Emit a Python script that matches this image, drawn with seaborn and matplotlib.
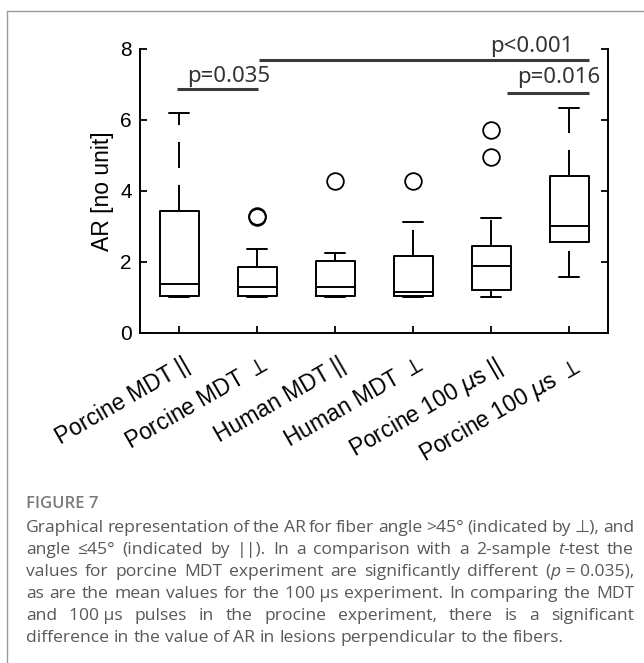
import matplotlib
matplotlib.use("Agg")
import matplotlib.pyplot as plt
from matplotlib.lines import Line2D
from matplotlib.transforms import ScaledTranslation
import seaborn as sns

sns.set_theme(style="ticks")
plt.rcParams['font.family'] = ['Liberation Sans', 'DejaVu Sans']
plt.rcParams['mathtext.fontset'] = 'dejavusans'

# box statistics (AR, no unit)
groups = ["Porcine MDT ||", r"Porcine MDT $\perp$", "Human MDT ||",
          r"Human MDT $\perp$", r"Porcine 100 $\mu$s ||", r"Porcine 100 $\mu$s $\perp$"]
q1 = [1.035, 1.035, 1.035, 1.035, 1.20, 2.55]
med = [1.365, 1.30, 1.30, 1.16, 1.88, 3.01]
q3 = [3.44, 1.86, 2.03, 2.17, 2.45, 4.43]
whislo = [1.0, 1.0, 1.0, 1.0, 1.02, 1.56]
whishi = [6.20, 2.35, 2.26, 3.13, 3.24, 6.33]
fliers = [[], [3.25, 3.28], [4.29], [4.29], [5.72, 4.96], []]

# significance bars
sig_labels = ["p=0.035", "p<0.001", "p=0.016"]
sig_x0 = [0.97, 2.02, 5.20]
sig_x1 = [2.01, 6.26, 6.26]
sig_y = [6.86, 7.69, 6.76]
sig_tx = [1.64, 5.52, 5.87]
sig_ty = [7.23, 8.08, 7.20]

cap_title = "FIGURE 7"
cap_lines = [
    "Graphical representation of the AR for fiber angle >45° (indicated by ⊥), and",
    "angle ≤45° (indicated by ||). In a comparison with a 2-sample *t*-test the",
    "values for porcine MDT experiment are significantly different (*p*\u00a0=\u00a00.035),",
    "as are the mean values for the 100\u00a0µs experiment. In comparing the MDT",
    "and 100\u00a0µs pulses in the procine experiment, there is a significant",
    "difference in the value of AR in lesions perpendicular to the fibers.",
]

fig = plt.figure(figsize=(6.44, 6.63), dpi=100)
ax = fig.add_axes([0.2174, 0.4982, 0.7267, 0.4279])

lw = 1.4
stats = [dict(q1=a, med=m, q3=b, whislo=lo, whishi=hi, fliers=f)
         for a, m, b, lo, hi, f in zip(q1, med, q3, whislo, whishi, fliers)]
res = ax.bxp(stats, positions=range(1, 7), widths=0.5, capwidths=0.25,
             boxprops=dict(color='black', lw=lw),
             medianprops=dict(color='black', lw=lw),
             whiskerprops=dict(color='black', lw=lw, linestyle=(0, (13.4, 8.7))),
             capprops=dict(color='black', lw=lw),
             flierprops=dict(marker='o', markerfacecolor='none', markeredgecolor='black',
                             markersize=12, markeredgewidth=1.3))
# lower whiskers start their dash pattern at the cap, like matlab
for w in res['whiskers'][::2]:
    x, y = w.get_data()
    w.set_data(x[::-1], y[::-1])

ax.set_xlim(0.5, 6.5)
ax.set_ylim(0, 8)
ax.set_yticks([0, 2, 4, 6, 8])
ax.set_xticks(range(1, 7))
ax.set_xticklabels(groups, rotation=30, ha='right', va='top', rotation_mode='anchor',
                   fontsize=16.5)
sns.despine(ax=ax, top=True, right=False)
ax.tick_params(direction='in', length=5, width=1.3, right=True, colors='black')
ax.tick_params(axis='y', labelsize=15, pad=6)
ax.tick_params(axis='x', pad=15)
for s in ax.spines.values():
    s.set_linewidth(lw)
    s.set_color('black')
for lab in ax.get_xticklabels():
    lab.set_transform(lab.get_transform() + ScaledTranslation(0.03, 0, fig.dpi_scale_trans))
ax.set_ylabel("AR [no unit]", fontsize=16.5, color='black')
ax.yaxis.set_label_coords(-0.055, 0.5)
ax.grid(False)

for x0, x1, y, tx, ty, lab in zip(sig_x0, sig_x1, sig_y, sig_tx, sig_ty, sig_labels):
    ax.plot([x0, x1], [y, y], color='#3a3a3a', lw=2.2, clip_on=False,
            solid_capstyle='butt')
    ax.text(tx, ty, lab, ha='center', va='center', fontsize=16, color='#333333',
            family=['Noto Sans', 'DejaVu Sans'], clip_on=False)

# frame around figure + caption
fig.add_artist(Line2D([7.3 / 644, 1], [1 - 11 / 663] * 2, transform=fig.transFigure,
                      color='#9a9a9a', lw=1))
fig.add_artist(Line2D([7.3 / 644] * 2, [0, 1 - 11 / 663], transform=fig.transFigure,
                      color='#9a9a9a', lw=1))

# caption, justified
cap_family = ['Open Sans', 'DejaVu Sans']
cap_size = 12.6
cap_color = '#585858'
x_left, x_right = 26, 634
fig.text(x_left / 644, 1 - 504 / 663, cap_title, fontsize=12, weight='semibold',
         color='#7a7a7a', family=cap_family, va='center')

fig.canvas.draw()
r = fig.canvas.get_renderer()


def seg_width(s, style):
    t = fig.text(0, 0, s, fontsize=cap_size, family=cap_family, style=style)
    w = t.get_window_extent(r).width
    t.remove()
    return w


space = seg_width("a a", 'normal') - seg_width("aa", 'normal')
for i, line in enumerate(cap_lines):
    y = 528 + 22.0 * i
    words = []
    for wd in line.split(' '):
        segs = [(s, 'italic' if k % 2 else 'normal') for k, s in enumerate(wd.split('*')) if s]
        words.append([(s, st, seg_width(s, st)) for s, st in segs])
    total = sum(w for wd in words for _, _, w in wd)
    last = i == len(cap_lines) - 1
    gap = space if last else max((x_right - x_left - total) / (len(words) - 1), 0.6 * space)
    x = x_left
    for wd in words:
        for s, st, w in wd:
            fig.text(x / 644, 1 - y / 663, s, fontsize=cap_size, family=cap_family,
                     style=st, color=cap_color, va='center', ha='left')
            x += w
        x += gap

fig.savefig("out.png", dpi=100)
